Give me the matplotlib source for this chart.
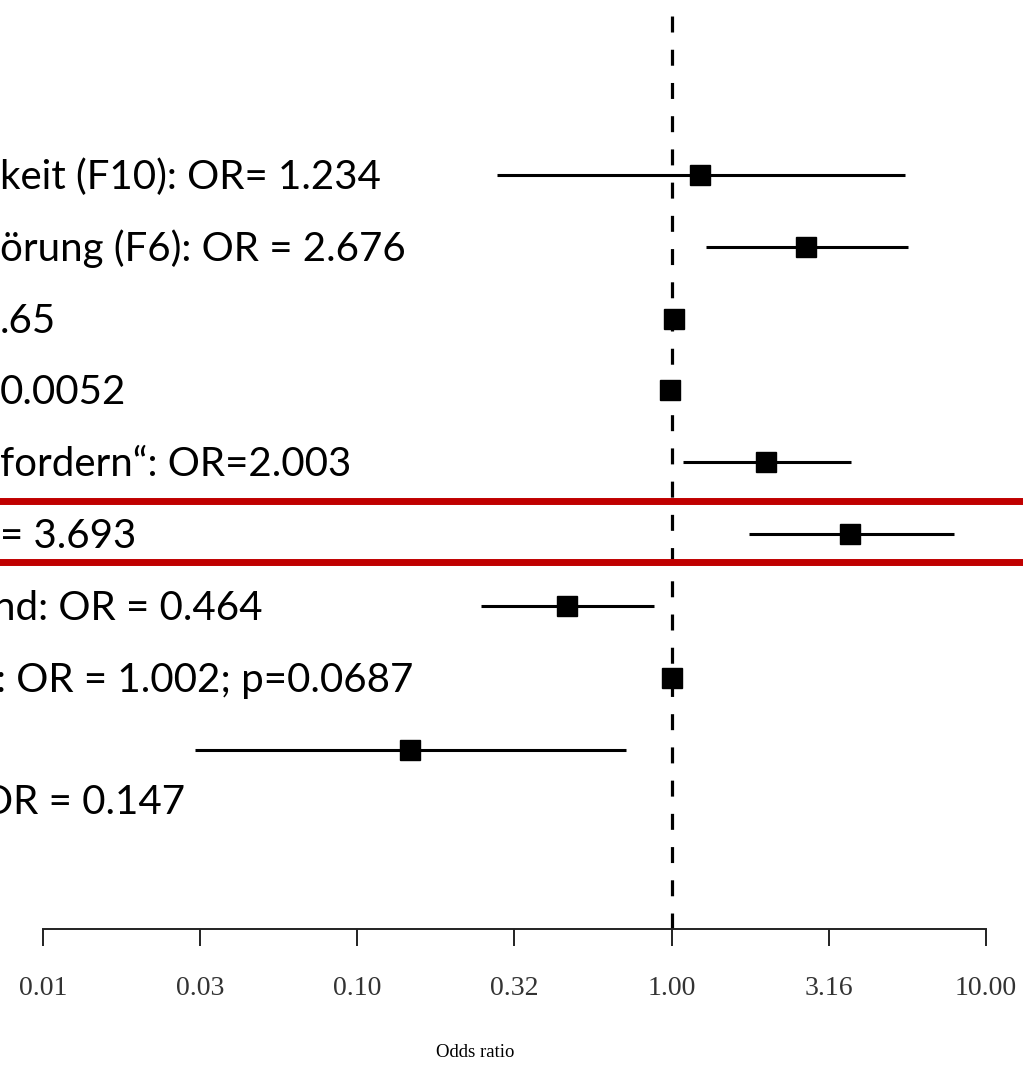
import matplotlib
matplotlib.use("Agg")
import matplotlib.pyplot as plt
import matplotlib.transforms as mtransforms
import numpy as np

# visible (cut off) row labels, top to bottom
labels = [
    "keit (F10): OR= 1.234",
    "örung (F6): OR = 2.676",
    ".65",
    "0.0052",
    "fordern“: OR=2.003",
    "= 3.693",
    "nd: OR = 0.464",
    ": OR = 1.002; p=0.0687",
    "OR = 0.147",
]
label_rows = [1, 2, 3, 4, 5, 6, 7, 8, 9.7]
label_shift = [0, 0, 0, 0, 0, 0, -7, -4, -19]  # px, first glyph partly cut

odds = [1.234, 2.676, 1.015, 0.985, 2.003, 3.693, 0.464, 1.002, 0.147]
ci_low = [0.279, 1.29, 1.005, 0.975, 1.09, 1.76, 0.248, 0.999, 0.0305]
ci_high = [5.52, 5.64, 1.025, 0.995, 3.72, 7.91, 0.877, 1.005, 0.714]

ticks = [0.01, 0.0316, 0.1, 0.316, 1.0, 3.16, 10.0]
tick_labels = ["0.01", "0.03", "0.10", "0.32", "1.00", "3.16", "10.00"]

highlight = (5.54, 6.39)  # rows boxed in red

W, H = 1023, 1070
fig = plt.figure(figsize=(W / 100, H / 100), dpi=100)
ax = fig.add_axes([43 / W, 1 - 929 / H, 943 / W, 929 / H])
ax.set_xscale("log")
ax.set_xlim(0.01, 10)
ax.set_ylim(11.49, -1.43)

rows = np.arange(1, len(odds) + 1)

ax.axvline(1.0, color="black", lw=2.3, dashes=(5.0, 5.4), zorder=1)
ax.hlines(rows, ci_low, ci_high, color="black", lw=2.2, zorder=2)
ax.plot(odds, rows, "s", color="black", ms=14, zorder=3)

# red box lines across the whole figure
trans = mtransforms.blended_transform_factory(fig.transFigure, ax.transData)
for y in highlight:
    ax.plot([0, 1], [y, y], color="#C00000", lw=5, transform=trans,
            clip_on=False, zorder=4)

for lab, y, dx in zip(labels, label_rows, label_shift):
    t = mtransforms.offset_copy(trans, fig=fig, x=dx, y=-14, units="dots")
    ax.text(0, y, lab, transform=t, ha="left", va="baseline",
            fontsize=29, family="Lato", color="black", clip_on=False)

for s in ["top", "left", "right"]:
    ax.spines[s].set_visible(False)
ax.spines["bottom"].set_bounds(0.01, 10)
ax.spines["bottom"].set_linewidth(1.4)
ax.spines["bottom"].set_color("#222222")
ax.set_yticks([])
ax.set_xticks(ticks)
ax.set_xticklabels(tick_labels, family="Liberation Serif", fontsize=20,
                   color="#333333")
ax.xaxis.set_minor_locator(matplotlib.ticker.NullLocator())
ax.tick_params(axis="x", direction="out", length=12, width=1.4,
               color="#222222", pad=22)
ax.set_xlabel("Odds ratio", family="Liberation Serif", fontsize=13.5,
              x=0.458, labelpad=31)

fig.savefig("out.png", dpi=100)
